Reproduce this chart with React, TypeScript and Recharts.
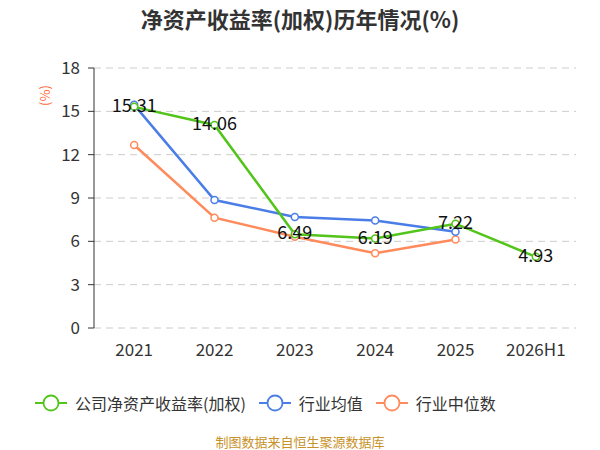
import React from 'react';
import { LineChart, Line, XAxis, YAxis, CartesianGrid, LabelList } from 'recharts';

const years = ['2021', '2022', '2023', '2024', '2025', '2026H1'];
const roe = [15.31, 14.06, 6.49, 6.19, 7.22, 4.93];
const industryAvg = [15.45, 8.86, 7.69, 7.44, 6.67, null];
const industryMedian = [12.67, 7.64, 6.32, 5.17, 6.12, null];
const yTicks = [0, 3, 6, 9, 12, 15, 18];
const bandEdges = [0, 1, 2, 3, 4, 5, 6];
const bandCenters = years.map((_, i) => i + 0.5);

const GREEN = '#52c41a';
const BLUE = '#4a7ee6';
const ORANGE = '#ff8a5b';
const FONT = '"Noto Sans CJK SC", "Noto Sans", sans-serif';

const data = years.map((year, i) => ({
  year,
  idx: bandCenters[i],
  roe: roe[i],
  avg: industryAvg[i],
  median: industryMedian[i],
}));

const legendItems = [
  { name: '公司净资产收益率(加权)', color: GREEN },
  { name: '行业均值', color: BLUE },
  { name: '行业中位数', color: ORANGE },
];

const renderValue = (props: any) => {
  const { x, y, value } = props;
  if (value == null) return null;
  return (
    <text x={x} y={y} dy={5} textAnchor="middle" fontSize={18} fill="#111" fontFamily={FONT}>
      {Number(value).toFixed(2)}
    </text>
  );
};

export default function App() {
  return (
    <div style={{ position: 'absolute', left: 0, top: 0, width: 600, height: 450, background: '#fff', fontFamily: FONT }}>
      <div style={{ position: 'absolute', top: 2, width: 600, textAlign: 'center', fontSize: 22, fontWeight: 'bold', color: '#333' }}>
        净资产收益率(加权)历年情况(%)
      </div>
      <div style={{ position: 'absolute', left: 34, top: 86, fontSize: 13, color: '#ff6a3d', transform: 'rotate(-90deg)' }}>
        (%)
      </div>
      <LineChart width={600} height={450} data={data} margin={{ top: 68, right: 24, left: 0, bottom: 82 }}>
        <CartesianGrid horizontal vertical={false} stroke="#cccccc" strokeDasharray="7 5" />
        <XAxis
          xAxisId="edges"
          dataKey="idx"
          type="number"
          domain={[0, 6]}
          ticks={bandEdges}
          height={0}
          tick={false}
          tickSize={6}
          axisLine={{ stroke: '#333' }}
          tickLine={{ stroke: '#333' }}
        />
        <XAxis
          xAxisId="labels"
          dataKey="idx"
          type="number"
          domain={[0, 6]}
          ticks={bandCenters}
          tickFormatter={(v: number) => years[Math.floor(v)]}
          height={40}
          axisLine={false}
          tickLine={false}
          tick={{ fill: '#333', fontSize: 17 }}
          dy={8}
        />
        <YAxis
          width={94}
          domain={[0, 18]}
          ticks={yTicks}
          axisLine={{ stroke: '#333' }}
          tickLine={{ stroke: '#333' }}
          tickSize={6}
          tickMargin={8}
          tick={{ fill: '#333', fontSize: 17 }}
        />
        <Line
          xAxisId="labels"
          dataKey="median"
          name="行业中位数"
          stroke={ORANGE}
          strokeWidth={2.5}
          dot={{ r: 3.5, fill: '#fff', stroke: ORANGE, strokeWidth: 1.5 }}
          isAnimationActive={false}
        />
        <Line
          xAxisId="labels"
          dataKey="avg"
          name="行业均值"
          stroke={BLUE}
          strokeWidth={2.5}
          dot={{ r: 3.5, fill: '#fff', stroke: BLUE, strokeWidth: 1.5 }}
          isAnimationActive={false}
        />
        <Line
          xAxisId="labels"
          dataKey="roe"
          name="公司净资产收益率(加权)"
          stroke={GREEN}
          strokeWidth={2.5}
          dot={{ r: 3.5, fill: '#fff', stroke: GREEN, strokeWidth: 1.5 }}
          isAnimationActive={false}
        >
          <LabelList dataKey="roe" content={renderValue} />
        </Line>
      </LineChart>
      <div style={{ position: 'absolute', top: 391, left: 35, display: 'flex', alignItems: 'center' }}>
        {legendItems.map((item) => (
          <div key={item.name} style={{ display: 'flex', alignItems: 'center', marginRight: 13 }}>
            <svg width={32} height={20} style={{ marginRight: 8 }}>
              <line x1={0} y1={10} x2={32} y2={10} stroke={item.color} strokeWidth={2} />
              <circle cx={16} cy={10} r={7.5} fill="#fff" stroke={item.color} strokeWidth={1.8} />
            </svg>
            <span style={{ fontSize: 16, color: '#333' }}>{item.name}</span>
          </div>
        ))}
      </div>
      <div style={{ position: 'absolute', top: 432, width: 600, textAlign: 'center', fontSize: 13, color: '#c8922a' }}>
        制图数据来自恒生聚源数据库
      </div>
    </div>
  );
}
